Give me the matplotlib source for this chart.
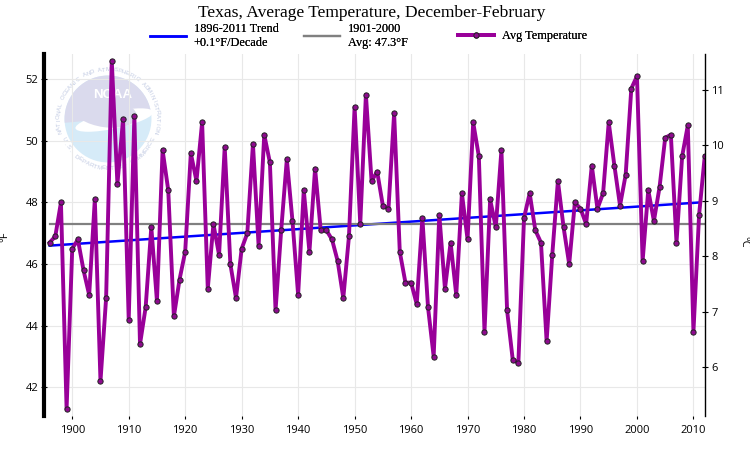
import matplotlib
matplotlib.use('Agg')
import matplotlib.pyplot as plt
from matplotlib.patches import Wedge, Circle, Ellipse
import numpy as np

# Dec-Feb average temperature for Texas (deg F)
years = list(range(1896, 2013))
temps = [46.7, 46.9, 48.0, 41.3, 46.5, 46.8, 45.8, 45.0, 48.1, 42.2,
         44.9, 52.6, 48.6, 50.7, 44.2, 50.8, 43.4, 44.6, 47.2, 44.8,
         49.7, 48.4, 44.3, 45.5, 46.4, 49.6, 48.7, 50.6, 45.2, 47.3,
         46.3, 49.8, 46.0, 44.9, 46.5, 47.0, 49.9, 46.6, 50.2, 49.3,
         44.5, 47.1, 49.4, 47.4, 45.0, 48.4, 46.4, 49.1, 47.1, 47.1,
         46.8, 46.1, 44.9, 46.9, 51.1, 47.3, 51.5, 48.7, 49.0, 47.9,
         47.8, 50.9, 46.4, 45.4, 45.4, 44.7, 47.5, 44.6, 43.0, 47.6,
         45.2, 46.7, 45.0, 48.3, 46.8, 50.6, 49.5, 43.8, 48.1, 47.2,
         49.7, 44.5, 42.9, 42.8, 47.5, 48.3, 47.1, 46.7, 43.5, 46.3,
         48.7, 47.2, 46.0, 48.0, 47.8, 47.3, 49.2, 47.8, 48.3, 50.6,
         49.2, 47.9, 48.9, 51.7, 52.1, 46.1, 48.4, 47.4, 48.5, 50.1,
         50.2, 46.7, 49.5, 50.5, 43.8, 47.6, 49.5]

trend_years = [1896, 2011]
trend_vals = [46.6, 48.0]
avg_years = [1896, 2012]
avg_vals = [47.3, 47.3]

x_ticks = list(range(1900, 2011, 10))
f_ticks = [42, 44, 46, 48, 50, 52]
c_ticks = [6, 7, 8, 9, 10, 11]

trend_label = '1896-2011 Trend\n+0.1°F/Decade'
avg_label = '1901-2000\nAvg: 47.3°F'
temp_label = 'Avg Temperature'

W, H = 750, 450
fig = plt.figure(figsize=(7.5, 4.5), dpi=100)

# faint NOAA watermark behind the plot
logo = fig.add_axes([55 / W, (H - 172) / H, 106 / W, 106 / H], zorder=0)
logo.set_xlim(-1, 1)
logo.set_ylim(-1, 1)
logo.set_aspect('equal')
logo.axis('off')
logo.add_patch(Circle((0, 0), 0.82, color='#d6ebf8', lw=0))
logo.add_patch(Wedge((0, 0), 0.82, 5, 185, color='#dadaed', lw=0))
logo.add_patch(Ellipse((0.12, -0.02), 1.5, 0.32, angle=12, color='white', lw=0))
logo.add_patch(Ellipse((-0.05, 0.12), 1.2, 0.55, angle=-8, color='#dadaed', lw=0))
logo.text(0.08, 0.45, 'NOAA', color='white', fontsize=9.5, fontweight='bold',
          family='Liberation Sans', ha='center', va='center')
ring_col = '#c2cbe3'
top_txt = 'NATIONAL OCEANIC AND ATMOSPHERIC ADMINISTRATION'
for i, ch in enumerate(top_txt):
    a = np.radians(195 - 210 * i / (len(top_txt) - 1))
    logo.text(0.93 * np.cos(a), 0.93 * np.sin(a), ch, fontsize=4.3, color=ring_col,
              rotation=np.degrees(a) - 90, ha='center', va='center',
              family='Liberation Sans')
bot_txt = 'U.S. DEPARTMENT OF COMMERCE'
for i, ch in enumerate(bot_txt):
    a = np.radians(205 + 130 * i / (len(bot_txt) - 1))
    logo.text(0.93 * np.cos(a), 0.93 * np.sin(a), ch, fontsize=4.3, color=ring_col,
              rotation=np.degrees(a) - 270, ha='center', va='center',
              family='Liberation Sans')

ax = fig.add_axes([44 / W, 34 / H, (705.3 - 44) / W, 362 / H], zorder=1)
ax.patch.set_facecolor('none')

l_trend, = ax.plot(trend_years, trend_vals, color='#0000ff', lw=1.8, zorder=3)
l_avg, = ax.plot(avg_years, avg_vals, color='#808080', lw=1.6, zorder=3)
l_temp, = ax.plot(years, temps, color='#990099', lw=2.8, marker='o', ms=3.8,
                  mfc='#8e0a8e', mec='#222222', mew=0.7, zorder=4)

ylo, yhi = 41.07, 52.82
ax.set_xlim(1895, 2012.1)
ax.set_ylim(ylo, yhi)
ax.set_xticks(x_ticks)
ax.set_yticks(f_ticks)
ax.grid(True, color='#e8e8e8', lw=0.8, zorder=0)
ax.set_axisbelow(True)

for s in ['top', 'right', 'bottom']:
    ax.spines[s].set_visible(False)
ax.spines['left'].set_linewidth(3)
ax.spines['left'].set_color('black')

ax.tick_params(axis='y', direction='inout', length=5, width=0.8, pad=1.5,
               labelsize=8, colors='black')
ax.tick_params(axis='x', direction='out', length=2.5, width=0.8, pad=4,
               labelsize=8, colors='black')
for lab in ax.get_xticklabels() + ax.get_yticklabels():
    lab.set_fontfamily('Open Sans')

# Celsius axis on the right
ax2 = ax.twinx()
ax2.set_ylim((ylo - 32) * 5 / 9 + 0.08, (yhi - 32) * 5 / 9 + 0.08)
ax2.set_yticks(c_ticks)
for s in ['top', 'left', 'bottom']:
    ax2.spines[s].set_visible(False)
ax2.spines['right'].set_linewidth(1)
ax2.tick_params(axis='y', direction='inout', length=4.5, width=0.8, pad=2,
                labelsize=8, colors='black')
for lab in ax2.get_yticklabels():
    lab.set_fontfamily('Open Sans')

fig.text(5 / W, 1 - 237 / H, '°F', rotation=90, ha='center', va='center',
         fontsize=8, family='Open Sans')
fig.text(744 / W, 1 - 242 / H, '°C', rotation=-90, ha='center', va='center',
         fontsize=8, family='Open Sans')

fig.text(371.5 / W, 1 - 13 / H, 'Texas, Average Temperature, December-February',
         ha='center', va='center', fontsize=12.6, family='Liberation Serif')

# three legend items spaced evenly across the top
leg_kw = dict(loc='center left', frameon=False, borderpad=0, borderaxespad=0,
              handlelength=2.95, handletextpad=0.64,
              prop={'family': 'Liberation Serif', 'size': 8.8})
for handle, label, xpx in [(l_trend, trend_label, 150),
                           (l_avg, avg_label, 304),
                           (l_temp, temp_label, 458)]:
    leg = fig.legend([handle], [label], bbox_to_anchor=(xpx / W, 1 - 36 / H), **leg_kw)
    fig.add_artist(leg)

fig.savefig('out.png', dpi=100)
